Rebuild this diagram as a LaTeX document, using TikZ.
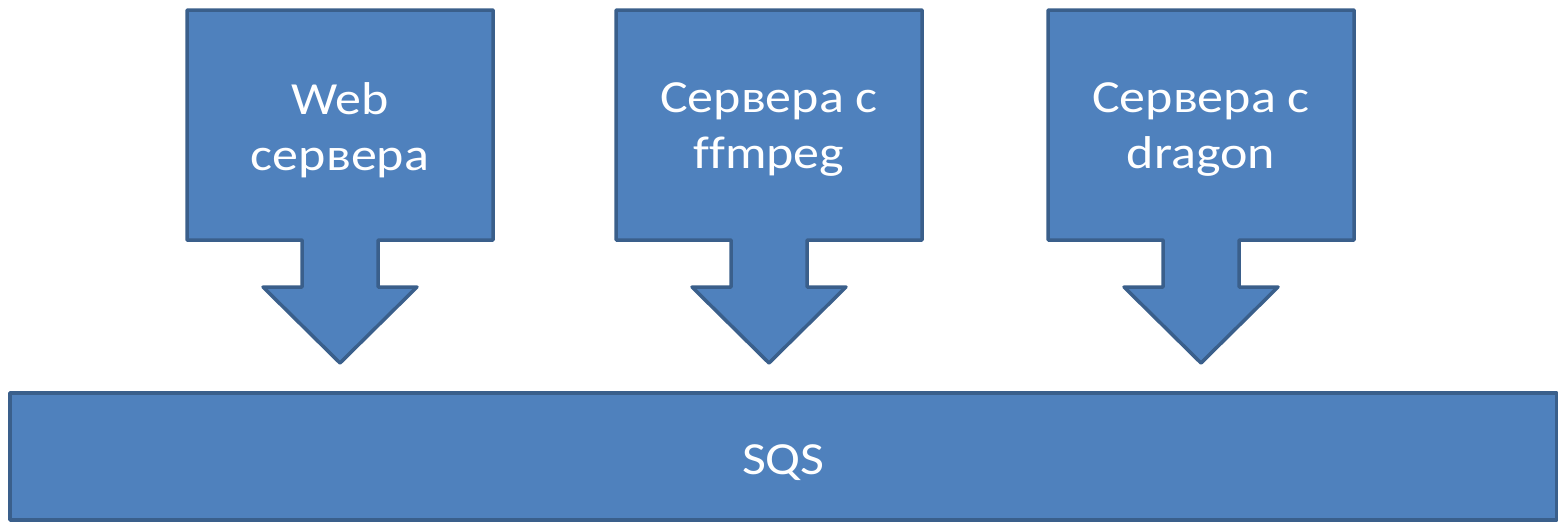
\documentclass[tikz,border=0pt]{standalone}
\usepackage{fontspec}
\setmainfont{Carlito}[FakeStretch=1.13, Ligatures=NoCommon]
\definecolor{boxfill}{HTML}{4F81BD}
\definecolor{boxline}{HTML}{3A5F8B}
\tikzset{
  shapeline/.style={draw=boxline, fill=boxfill, line width=3.5pt, line join=round},
  lbl/.style={text=white, align=center, font=\fontsize{46}{56}\selectfont},
  callout/.pic={
    \draw[shapeline] (-153,-10) -- (153,-10) -- (153,-240) -- (38,-240) -- (38,-287)
      -- (77,-287) -- (0,-363) -- (-77,-287) -- (-38,-287) -- (-38,-240)
      -- (-153,-240) -- cycle;
  }
}
\begin{document}
\begin{tikzpicture}[x=1pt,y=1pt]
\useasboundingbox (0,0) rectangle (1558,-522);
\pic at (340,0) {callout};
\pic at (769,0) {callout};
\pic at (1201,0) {callout};
\node[lbl] (web) at (340,-130) {Web\\сервера};
\node[lbl] (ffm) at (769,-130) {Сервера с\\ffmpeg};
\node[lbl] (drg) at (1201,-130) {Сервера с\\dragon};
\node[shapeline, rectangle, minimum width=1547pt, minimum height=127pt, inner sep=0pt,
      label={[lbl, yshift=-6pt]center:SQS}] (sqs) at (783.5,-456.5) {};
\end{tikzpicture}
\end{document}
